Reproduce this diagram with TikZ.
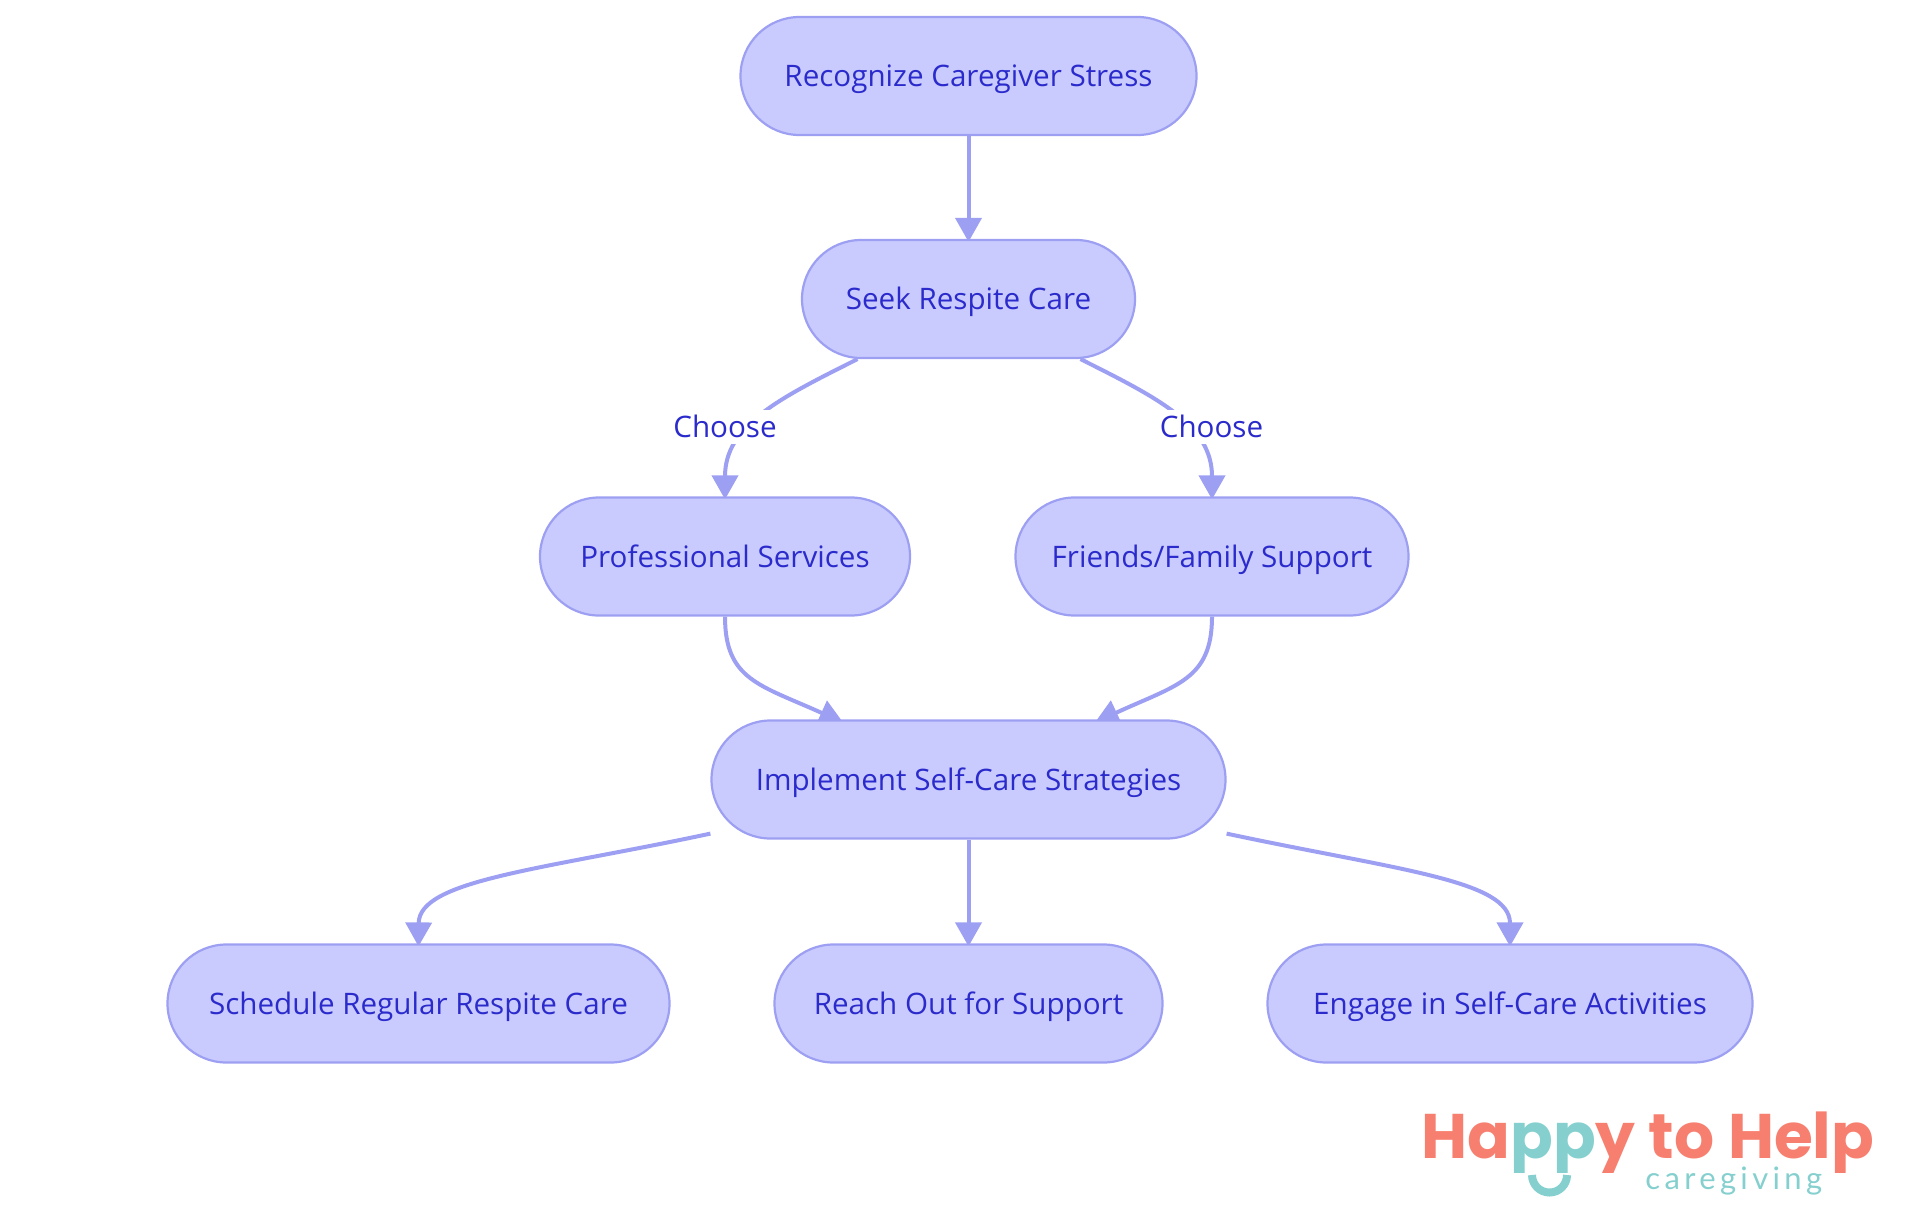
\documentclass[tikz,border=0pt]{standalone}
\usepackage{fontspec}
\usetikzlibrary{arrows.meta,calc,backgrounds}
\setmainfont{Open Sans}
\newfontfamily\logobold{Poppins}
\newfontfamily\logolight{Lato}[LetterSpace=14]
\definecolor{nodefill}{HTML}{C9CBFF}
\definecolor{nodeline}{HTML}{9D9FF2}
\definecolor{nodetext}{HTML}{2B2BCC}
\definecolor{logocoral}{HTML}{F77F6F}
\definecolor{logoteal}{HTML}{85D0CF}
\tikzset{
  stadium/.style={draw=nodeline,fill=nodefill,text=nodetext,line width=1.1pt,rounded corners=29.5pt,
    minimum height=59pt,inner sep=0pt,font=\fontsize{14.8}{17}\selectfont,text height=10.5pt,text depth=0pt},
  edgelabel/.style={fill=white,text=nodetext,inner sep=0pt,minimum width=51.5pt,minimum height=17pt,
    font=\fontsize{14.8}{17}\selectfont,text height=10pt,text depth=0pt},
  link/.style={draw=nodeline,line width=2pt,shorten >=-1.5pt,-{Triangle[length=12pt,width=13pt,fill=nodeline]}},
}
\begin{document}
\begin{tikzpicture}[x=0.5pt,y=-0.5pt]
\useasboundingbox (0,0) rectangle (1920,1215);
\node[stadium,minimum width=228pt] (recognize) at (968.5,76) {Recognize Caregiver Stress};
\node[stadium,minimum width=166.5pt] (seek) at (968.5,299) {Seek Respite Care};
\node[stadium,minimum width=185pt] (prof) at (725,556.5) {Professional Services};
\node[stadium,minimum width=196.5pt] (friends) at (1212,556.5) {Friends/Family Support};
\node[stadium,minimum width=257pt] (impl) at (968.5,779.5) {Implement Self-Care Strategies};
\node[stadium,minimum width=251pt] (sched) at (418.5,1003.5) {Schedule Regular Respite Care};
\node[stadium,minimum width=194pt] (reach) at (968.5,1003.5) {Reach Out for Support};
\node[stadium,minimum width=242.5pt] (engage) at (1510,1003.5) {Engage in Self-Care Activities};
\node[edgelabel] (choosea) at (725,427) {Choose};
\node[edgelabel] (chooseb) at (1211.5,427) {Choose};
\begin{scope}[on background layer]
\draw[link] (recognize) -- (seek);
\draw[link] ($(seek.south)+(-111,0)$) .. controls (780,398) and (725,425) .. (prof.north);
\draw[link] ($(seek.south)+(112,0)$) .. controls (1158,398) and (1212,425) .. (friends.north);
\draw[link] (prof.south) .. controls (725,680) and (760,685) .. ($(impl.north)+(-128,2)$);
\draw[link] (friends.south) .. controls (1212,680) and (1176,685) .. ($(impl.north)+(129,2)$);
\draw[link] (impl) -- (reach);
\draw[link] ($(impl.south west)+(0,-6)$) .. controls (540,870) and (419,880) .. (sched.north);
\draw[link] ($(impl.south east)+(0,-6)$) .. controls (1397,870) and (1510,880) .. (engage.north);
\end{scope}
\begin{scope}
\clip (1400,1090) rectangle (1900,1172);
\node[anchor=base west,inner sep=0pt,font=\logobold\fontsize{31.5}{33}\selectfont\bfseries] (logomain) at (1421,1158)
  {\textcolor{logocoral}{Ha}\textcolor{logoteal}{pp}\textcolor{logocoral}{y to Help}};
\end{scope}
\node[anchor=base west,inner sep=0pt,text=logoteal,font=\logolight\fontsize{15.5}{17}\selectfont] (logosub) at (1645,1189) {caregiving};
\draw[logoteal,line width=4pt] (1532,1175) arc[start angle=180,end angle=0,radius=17.5];
\end{tikzpicture}
\end{document}
